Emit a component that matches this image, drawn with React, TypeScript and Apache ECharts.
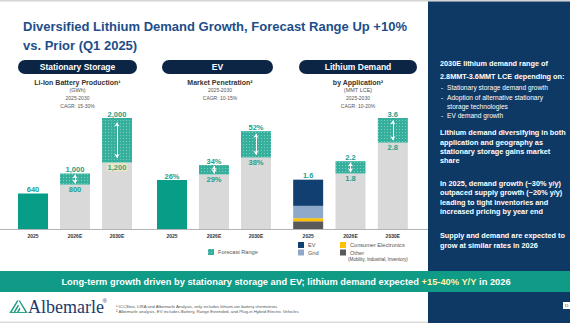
import React, { useEffect, useRef } from 'react';
import * as echarts from 'echarts';

const categories = ['2025', '2026E', '2030E'];

// Stationary storage: Li-ion battery production (GWh)
const storageActual = [640, null, null];
const storageLow = [null, 800, 1200];
const storageHigh = [null, 1000, 2000];

// EV market penetration (%)
const evActual = [26, null, null];
const evLow = [null, 29, 38];
const evHigh = [null, 34, 52];

// Lithium demand by application (MMT LCE)
const demandOther = [0.25, null, null];
const demandCE = [0.1, null, null];
const demandGrid = [0.4, null, null];
const demandEV = [0.85, null, null];
const demandLow = [null, 1.8, 2.8];
const demandHigh = [null, 2.2, 3.6];

const FONT = '"Liberation Sans", Arial, sans-serif';
const TEAL_LABEL = '#23a08c';
const TEAL_ACTUAL = '#079d86';
const TEAL_RANGE = '#36b09d';
const GRAY = '#d9d9d9';

const toData = (arr: (number | null)[]) => arr.map((v) => (v == null ? '-' : v));
const rangeOf = (low: (number | null)[], high: (number | null)[]) =>
  low.map((v, i) => (v == null || high[i] == null ? '-' : +((high[i] as number) - v).toFixed(4)));

const fmtGWh = (v: number) => v.toLocaleString('en-US');
const fmtPct = (v: number) => v + '%';
const fmtMMT = (v: number) => v.toFixed(1);

const valueLabel = {
  fontSize: 7.5,
  fontWeight: 'bold',
  color: TEAL_LABEL,
  fontFamily: FONT,
};

const decal = {
  symbol: 'rect',
  symbolSize: 1,
  color: 'rgba(255,255,255,0.35)',
  dashArrayX: [1, 1.5],
  dashArrayY: [1, 1.5],
};

function rangeSeries(
  gi: number,
  stack: string,
  low: (number | null)[],
  high: (number | null)[],
  fmt: (v: number) => string,
  highlightIdx: number | null
) {
  const arrows: any[] = [];
  low.forEach((v, i) => {
    const h = high[i];
    if (v == null || h == null) return;
    const r = h - v;
    arrows.push([
      { coord: [i, v + r * 0.1] },
      { coord: [i, h - r * 0.1] },
    ]);
  });
  return [
    {
      name: 'Base',
      type: 'bar',
      xAxisIndex: gi,
      yAxisIndex: gi,
      stack,
      barWidth: 30,
      itemStyle: { color: GRAY },
      label: {
        show: true,
        position: 'insideTop',
        distance: 1,
        ...valueLabel,
        formatter: (p: any) => fmt(p.value),
      },
      data: low.map((v, i) =>
        v == null
          ? '-'
          : i === highlightIdx
          ? { value: v, label: { backgroundColor: '#ebe7c2', padding: [0, 1], color: '#3d9f86' } }
          : v
      ),
    },
    {
      name: 'Forecast Range',
      type: 'bar',
      xAxisIndex: gi,
      yAxisIndex: gi,
      stack,
      barWidth: 30,
      itemStyle: { color: TEAL_RANGE, decal },
      label: {
        show: true,
        position: 'top',
        distance: 0,
        ...valueLabel,
        formatter: (p: any) => fmt(high[p.dataIndex] as number),
      },
      markLine: {
        silent: true,
        symbol: ['arrow', 'arrow'],
        symbolSize: [4, 4],
        label: { show: false },
        lineStyle: { color: '#ffffff', width: 1, type: 'solid' },
        data: arrows,
      },
      data: rangeOf(low, high),
    },
  ];
}

function App() {
  const ref = useRef<HTMLDivElement>(null);

  useEffect(() => {
    if (!ref.current) return;
    const chart = echarts.init(ref.current, undefined, { renderer: 'svg' });

    const grids = [
      { left: 12, top: 118, width: 126, height: 111 },
      { left: 151, top: 118, width: 126, height: 111 },
      { left: 287, top: 118, width: 127, height: 111 },
    ];
    const maxes = [2000, 59, 3.6];

    const xAxis = grids.map((_, i) => ({
      type: 'category',
      gridIndex: i,
      data: categories,
      axisTick: { show: false },
      axisLine: { lineStyle: { color: '#b3b3b3', width: 1.2 } },
      axisLabel: { fontSize: 5, fontWeight: 'bold', color: '#333', margin: 4, fontFamily: FONT },
    }));
    const yAxis = grids.map((_, i) => ({
      type: 'value',
      gridIndex: i,
      min: 0,
      max: maxes[i],
      show: false,
      splitLine: { show: false },
    }));

    const demandTotal = [demandOther, demandCE, demandGrid, demandEV].reduce(
      (s, a) => s + (a[0] as number),
      0
    );

    const stackPart = (name: string, arr: (number | null)[], color: string, top = false) => ({
      name,
      type: 'bar',
      xAxisIndex: 2,
      yAxisIndex: 2,
      stack: 'R',
      barWidth: 30,
      itemStyle: { color },
      label: top
        ? {
            show: true,
            position: 'top',
            distance: 0,
            ...valueLabel,
            formatter: () => fmtMMT(demandTotal),
          }
        : { show: false },
      data: toData(arr),
    });

    const series: any[] = [
      {
        name: 'Actual',
        type: 'bar',
        xAxisIndex: 0,
        yAxisIndex: 0,
        stack: 'L',
        barWidth: 30,
        itemStyle: { color: TEAL_ACTUAL },
        label: { show: true, position: 'top', distance: 0, ...valueLabel, formatter: (p: any) => fmtGWh(p.value) },
        data: toData(storageActual),
      },
      ...rangeSeries(0, 'L', storageLow, storageHigh, fmtGWh, 2),
      {
        name: 'Actual',
        type: 'bar',
        xAxisIndex: 1,
        yAxisIndex: 1,
        stack: 'M',
        barWidth: 30,
        itemStyle: { color: TEAL_ACTUAL },
        label: { show: true, position: 'top', distance: 0, ...valueLabel, formatter: (p: any) => fmtPct(p.value) },
        data: toData(evActual),
      },
      ...rangeSeries(1, 'M', evLow, evHigh, fmtPct, null),
      stackPart('Other', demandOther, '#595959'),
      stackPart('Consumer Electronics', demandCE, '#ffc000'),
      stackPart('Grid', demandGrid, '#8ea9c9'),
      stackPart('EV', demandEV, '#123f72', true),
      ...rangeSeries(2, 'R', demandLow, demandHigh, fmtMMT, null),
    ];

    const txt = (
      text: string,
      x: number,
      y: number,
      size: number,
      fill: string,
      weight: string = 'normal',
      align: string = 'left',
      family: string = FONT
    ) => ({
      type: 'text',
      x,
      y,
      z: 10,
      style: {
        text,
        fill,
        fontSize: size,
        fontWeight: weight,
        fontFamily: family,
        align,
        verticalAlign: 'middle',
      },
    });

    const pill = (label: string, x: number, w: number) => [
      {
        type: 'rect',
        z: 5,
        shape: { x, y: 60, width: w, height: 14, r: 7 },
        style: { fill: '#0c2544' },
      },
      txt(label, x + w / 2, 67, 8.5, '#ffffff', 'bold', 'center'),
    ];

    const sideLines: [string, number, boolean, number][] = [
      ['2030E lithium demand range of', 63.5, true, 440],
      ['2.8MMT-3.6MMT LCE depending on:', 76, true, 440],
      ['Stationary storage demand growth', 87.3, false, 447],
      ['Adoption of alternative stationary', 97, false, 447],
      ['storage technologies', 106, false, 447],
      ['EV demand growth', 115.3, false, 447],
      ['Lithium demand diversifying in both', 132.5, true, 440],
      ['application and geography as', 142.2, true, 440],
      ['stationary storage gains market', 151.7, true, 440],
      ['share', 160.8, true, 440],
      ['In 2025, demand growth (~30% y/y)', 183.3, true, 440],
      ['outpaced supply growth (~20% y/y)', 192.7, true, 440],
      ['leading to tight inventories and', 202, true, 440],
      ['increased pricing by year end', 211.3, true, 440],
      ['Supply and demand are expected to', 235.7, true, 440],
      ['grow at similar rates in 2026', 245, true, 440],
    ];

    const graphic: any[] = [
      { type: 'rect', z: 1, shape: { x: 0, y: 0, width: 570, height: 1.5 }, style: { fill: '#d4d4d4' } },
      { type: 'rect', z: 1, shape: { x: 428, y: 1.5, width: 142, height: 321.5 }, style: { fill: '#0f3965' } },
      { type: 'line', z: 1, shape: { x1: 0, y1: 229.5, x2: 428, y2: 229.5 }, style: { stroke: '#b3b3b3', lineWidth: 1.2 } },
      txt('Diversified Lithium Demand Growth, Forecast Range Up +10%', 23, 26.5, 13, '#1d4e89', 'bold'),
      txt('vs. Prior (Q1 2025)', 23, 45, 13, '#1d4e89', 'bold'),
      ...pill('Stationary Storage', 18, 119),
      ...pill('EV', 162, 111),
      ...pill('Lithium Demand', 299, 118),
      txt('Li-Ion Battery Production¹', 77.5, 82, 7, '#333333', 'bold', 'center'),
      txt('(GWh)', 77.5, 89.5, 5.5, '#555555', 'normal', 'center'),
      txt('2025-2030', 77.5, 98, 5, '#555555', 'normal', 'center'),
      txt('CAGR: 15-30%', 77.5, 105.5, 5, '#555555', 'normal', 'center'),
      txt('Market Penetration²', 220, 82.5, 7, '#333333', 'bold', 'center'),
      txt('2025-2030', 220, 90, 5, '#555555', 'normal', 'center'),
      txt('CAGR: 10-15%', 220, 97.5, 5, '#555555', 'normal', 'center'),
      txt('by Application²', 358, 82, 7, '#333333', 'bold', 'center'),
      txt('(MMT LCE)', 358, 89.5, 5.5, '#555555', 'normal', 'center'),
      txt('2025-2030', 358, 98, 5, '#555555', 'normal', 'center'),
      txt('CAGR: 10-20%', 358, 105.5, 5, '#555555', 'normal', 'center'),
      txt('(Mobility, Industrial, Inventory)', 348, 259.5, 4.5, '#444444'),
      ...sideLines.map(([t, y, bold, x]) =>
        bold ? txt(t, x, y, 7.3, '#ffffff', 'bold') : txt(t, x, y, 6.6, '#ffffff')
      ),
      ...sideLines
        .filter(([, , bold, x]) => !bold && x === 447)
        .filter(([t]) => t !== 'storage technologies')
        .map(([, y]) => txt('-', 441, y, 6.6, '#ffffff')),
      { type: 'rect', z: 5, shape: { x: 0, y: 271, width: 570, height: 21 }, style: { fill: '#0f9b86' } },
      {
        type: 'text',
        x: 286,
        y: 281.5,
        z: 10,
        style: {
          text: '{w|Long-term growth driven by stationary storage and EV; lithium demand expected }{y|+15-40% Y/Y}{w| in 2026}',
          align: 'center',
          verticalAlign: 'middle',
          rich: {
            w: { fontSize: 9.3, fontWeight: 'bold', fill: '#ffffff', fontFamily: FONT },
            y: { fontSize: 9.3, fontWeight: 'bold', fill: '#fff3a6', fontFamily: FONT },
          },
        },
      },
      // Albemarle logo mark
      { type: 'polygon', z: 10, shape: { points: [[10, 312], [17, 300.5], [18.6, 300.5], [11.8, 312]] }, style: { fill: '#1a9a7e' } },
      { type: 'polygon', z: 10, shape: { points: [[13.6, 312], [18, 304.6], [18.9, 306.1], [15.3, 312]] }, style: { fill: '#1a9a7e' } },
      { type: 'polygon', z: 10, shape: { points: [[17, 312], [19.6, 307.6], [20.5, 309.1], [18.7, 312]] }, style: { fill: '#1a9a7e' } },
      { type: 'polygon', z: 10, shape: { points: [[18.6, 300.5], [20, 300.5], [27, 312], [25.3, 312]] }, style: { fill: '#1a9a7e' } },
      { type: 'rect', z: 10, shape: { x: 9.5, y: 312, width: 18, height: 0.9 }, style: { fill: '#1a9a7e' } },
      txt('Albemarle', 28, 306.5, 18, '#1b3a6b', 'normal', 'left', '"Liberation Serif", "Times New Roman", serif'),
      txt('®', 102.5, 301, 6, '#1b3a6b', 'normal', 'left'),
      txt('¹ ICCSino, LIRA and Albemarle Analysis, only includes lithium-ion battery chemistries', 116, 306.3, 4.3, '#555555'),
      txt('² Albemarle analysis, EV includes Battery, Range Extended, and Plug-in Hybrid Electric Vehicles', 116, 311.8, 4.3, '#555555'),
      { type: 'rect', z: 10, shape: { x: 563, y: 302, width: 7, height: 7 }, style: { fill: '#ffffff' } },
      txt('15', 566.5, 305.5, 3.5, '#333333', 'normal', 'center'),
      { type: 'rect', z: 1, shape: { x: 0, y: 321.5, width: 428, height: 1.5 }, style: { fill: '#dcdcdc' } },
    ];

    const legendBase = {
      itemWidth: 6,
      itemHeight: 6,
      padding: 0,
      icon: 'rect',
      selectedMode: false,
      textStyle: { fontSize: 5.6, color: '#555555', fontFamily: FONT, padding: [0, 0, 0, -1] },
    };

    chart.setOption({
      animation: false,
      backgroundColor: '#ffffff',
      textStyle: { fontFamily: FONT },
      grid: grids,
      xAxis,
      yAxis,
      legend: [
        { ...legendBase, data: ['Forecast Range'], left: 208, top: 249 },
        { ...legendBase, data: ['EV', 'Grid'], orient: 'vertical', left: 298, top: 242, itemGap: 1.5 },
        { ...legendBase, data: ['Consumer Electronics', 'Other'], orient: 'vertical', left: 340, top: 242, itemGap: 1.5 },
      ],
      series,
      graphic,
    });

    return () => chart.dispose();
  }, []);

  return (
    <div
      ref={ref}
      style={{ position: 'absolute', left: 0, top: 0, width: 570, height: 323 }}
    />
  );
}

export default App;
